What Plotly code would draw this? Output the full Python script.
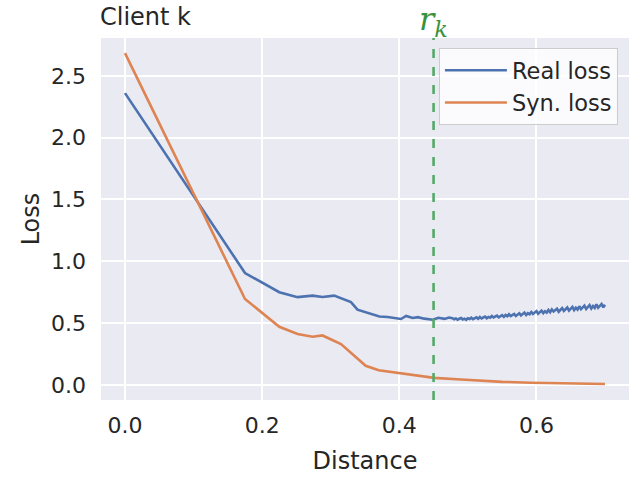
import plotly.graph_objects as go

# ---- data ----
real_x = [0.0, 0.175, 0.225, 0.2517, 0.2735, 0.288, 0.305, 0.3295, 0.339, 0.352,
          0.371, 0.383, 0.393, 0.4025, 0.41, 0.4195, 0.427, 0.4365, 0.449, 0.457,
          0.466, 0.4725,
          0.4775, 0.480, 0.4825, 0.485, 0.4875, 0.490, 0.4925, 0.495, 0.4975, 0.500,
          0.5025, 0.505, 0.5075, 0.510, 0.5125, 0.515, 0.5175, 0.520, 0.5225, 0.525,
          0.5275, 0.530, 0.5325, 0.535, 0.5375, 0.540, 0.5425, 0.545, 0.5475, 0.550,
          0.5525, 0.555, 0.5575, 0.560, 0.5625, 0.565, 0.5675, 0.570, 0.5725, 0.575,
          0.5775, 0.580, 0.5825, 0.585, 0.5875, 0.590, 0.5925, 0.595, 0.5975, 0.600,
          0.6025, 0.605, 0.6075, 0.610, 0.6125, 0.615, 0.6175, 0.620, 0.6225, 0.625,
          0.6275, 0.630, 0.6325, 0.635, 0.6375, 0.640, 0.6425, 0.645, 0.6475, 0.650,
          0.6525, 0.655, 0.6575, 0.660, 0.6625, 0.665, 0.6675, 0.670, 0.6725, 0.675,
          0.6775, 0.680, 0.6825, 0.685, 0.6875, 0.690, 0.6925, 0.695, 0.6975, 0.700]
real_loss = [2.36, 0.905, 0.75, 0.71, 0.722, 0.711, 0.722, 0.67, 0.609, 0.585,
             0.553, 0.549, 0.542, 0.533, 0.558, 0.541, 0.548, 0.536, 0.527, 0.543,
             0.534, 0.545,
             0.540, 0.531, 0.537, 0.528, 0.535, 0.541, 0.530, 0.536, 0.527, 0.539,
             0.533, 0.544, 0.532, 0.540, 0.546, 0.535, 0.549, 0.538, 0.545, 0.552,
             0.539, 0.550, 0.543, 0.557, 0.546, 0.553, 0.561, 0.547, 0.558, 0.564,
             0.550, 0.566, 0.555, 0.571, 0.556, 0.563, 0.574, 0.558, 0.570, 0.579,
             0.562, 0.575, 0.585, 0.566, 0.580, 0.571, 0.590, 0.574, 0.586, 0.597,
             0.576, 0.591, 0.601, 0.581, 0.596, 0.585, 0.606, 0.588, 0.611, 0.594,
             0.604, 0.616, 0.592, 0.609, 0.621, 0.598, 0.614, 0.626, 0.601, 0.619,
             0.631, 0.605, 0.624, 0.610, 0.636, 0.613, 0.629, 0.641, 0.614, 0.633,
             0.646, 0.618, 0.638, 0.623, 0.651, 0.624, 0.644, 0.655, 0.627, 0.648]

syn_x = [0.0, 0.175, 0.225, 0.2517, 0.2735, 0.288, 0.315, 0.334, 0.351, 0.37,
         0.393, 0.427, 0.451, 0.49, 0.519, 0.55, 0.592, 0.65, 0.70]
syn_loss = [2.684, 0.695, 0.47, 0.412, 0.39, 0.40, 0.33, 0.24, 0.155, 0.118,
            0.099, 0.071, 0.057, 0.044, 0.033, 0.025, 0.018, 0.012, 0.008]

r_k = 0.45
x_ticks = [0.0, 0.2, 0.4, 0.6]
y_ticks = [0.0, 0.5, 1.0, 1.5, 2.0, 2.5]

BLUE = "#4C72B0"
ORANGE = "#DD8452"
GREEN = "#55A868"
TXT = "#262626"
FONT = "DejaVu Sans"

fig = go.Figure()
fig.add_trace(go.Scatter(x=real_x, y=real_loss, mode="lines", name="Real loss",
                         line=dict(color=BLUE, width=2.6)))
fig.add_trace(go.Scatter(x=syn_x, y=syn_loss, mode="lines", name="Syn. loss",
                         line=dict(color=ORANGE, width=2.6)))

fig.add_vline(x=r_k, line=dict(color=GREEN, width=2.6, dash="dash"))
fig.add_annotation(x=r_k, xref="x", y=1.0, yref="paper", yanchor="bottom",
                   yshift=-6, text="<i>r<sub>k</sub></i>", showarrow=False,
                   font=dict(family="DejaVu Serif", size=32, color="#3a923a"))

fig.update_layout(
    width=639, height=478,
    margin=dict(l=101, r=10, t=38, b=78, autoexpand=False),
    paper_bgcolor="white", plot_bgcolor="#EAEAF2",
    font=dict(family=FONT, color=TXT),
    title=dict(text="Client k", x=100/639, xanchor="left", xref="container",
               y=1 - 17/478, yanchor="middle", yref="container",
               font=dict(size=24, color=TXT, family=FONT)),
    legend=dict(x=0.979, xanchor="right", y=0.972, yanchor="top",
                bgcolor="rgba(255,255,255,0.8)", bordercolor="#cccccc",
                borderwidth=1, font=dict(size=22.5, color=TXT, family=FONT),
                itemwidth=62),
    showlegend=True,
)
fig.update_xaxes(range=[-0.035, 0.735], tickvals=x_ticks,
                 ticktext=[f"{v:.1f}" for v in x_ticks],
                 showgrid=True, gridcolor="white", gridwidth=1.6, zeroline=False,
                 ticks="", tickfont=dict(size=22, color=TXT), ticklabelstandoff=10,
                 title=dict(text="Distance", font=dict(size=24, color=TXT), standoff=15),
                 showline=False, automargin=False)
fig.update_yaxes(range=[-0.122, 2.806], tickvals=y_ticks,
                 ticktext=[f"{v:.1f}" for v in y_ticks],
                 showgrid=True, gridcolor="white", gridwidth=1.6, zeroline=False,
                 ticks="", tickfont=dict(size=22, color=TXT), ticklabelstandoff=14,
                 title=dict(text="Loss", font=dict(size=24, color=TXT), standoff=4),
                 showline=False, automargin=False)

fig.write_html("out.html", config={"displayModeBar": False},
               post_script="document.body.style.margin='0';document.body.style.overflow='hidden';")
